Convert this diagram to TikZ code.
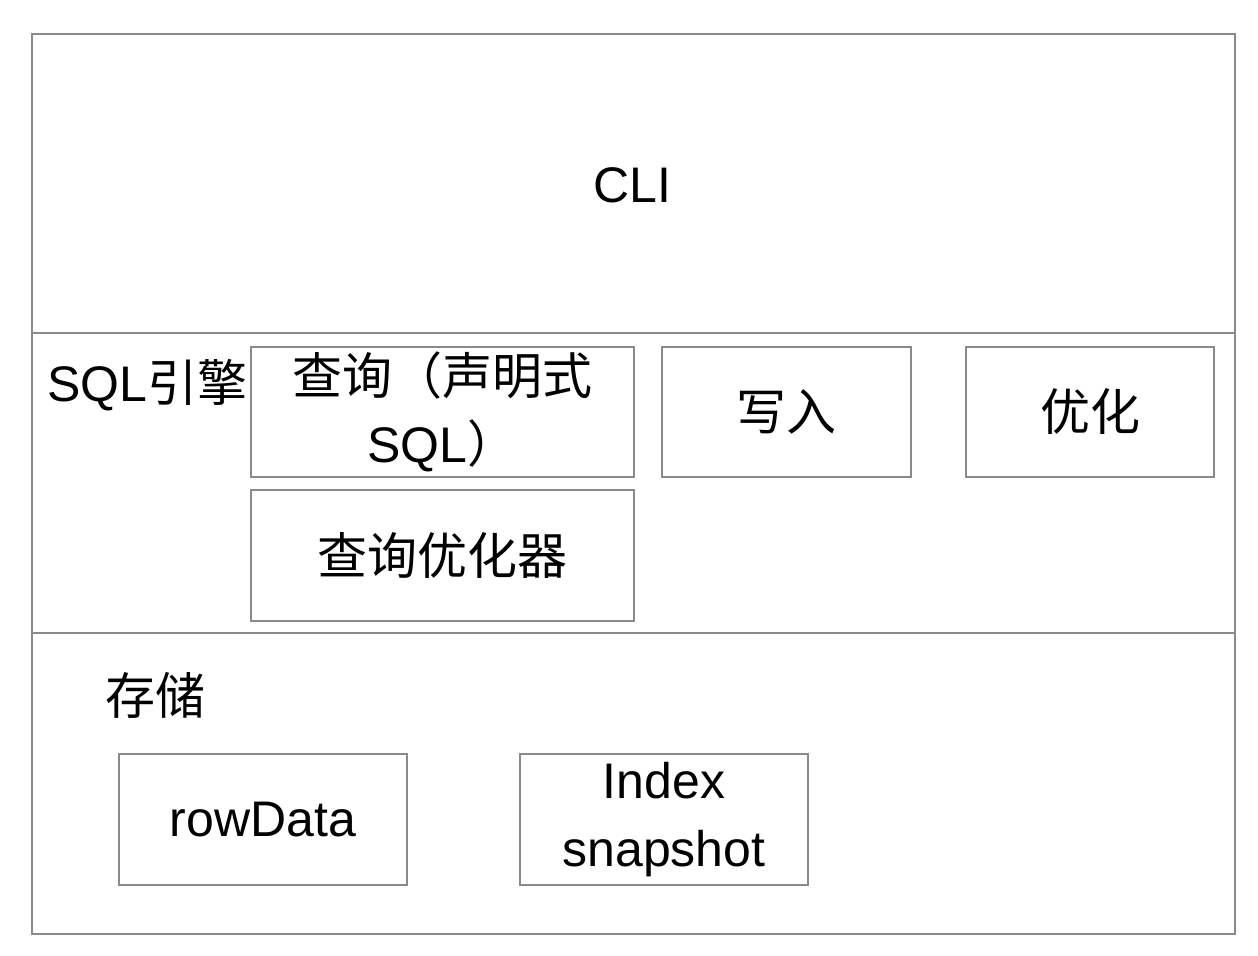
\documentclass[tikz,border=0pt]{standalone}
\usepackage{fontspec}
\setmainfont{Liberation Sans}
\newfontfamily\cjk{Noto Sans CJK SC}
\usepackage{tikz}
\definecolor{framegray}{HTML}{8A8A8A}

\tikzset{
	part/.style={draw=framegray, line width=1pt, align=center, inner sep=0pt},
	label/.style={font=\fontsize{25}{34}\selectfont, align=center, inner sep=0pt}
}

\begin{document}
\begin{tikzpicture}[x=0.5pt, y=-0.5pt, font=\fontsize{25}{34}\selectfont]
		\useasboundingbox (0,0) rectangle (1258,956);
		
		% layers
		\draw [framegray, line width=1pt] (32,34) rectangle (1235,934);
		\draw [framegray, line width=1pt] (32,333) -- (1235,333);
		\draw [framegray, line width=1pt] (32,633) -- (1235,633);
		
		\node [label] (cli) at (632,185) {CLI};
		\node [label, anchor=west] (sql) at (47,385) {SQL{\cjk 引擎}};
		\node [label] (store) at (155,695) {\cjk 存储};
		
		% SQL engine
		\node [part, minimum width=191.5pt, minimum height=65pt] (query) at (442.5,412) {{\cjk 查询（声明式}\\SQL{\cjk ）}};
		\node [part, minimum width=124.5pt, minimum height=65pt] (write) at (786.5,412) {\cjk 写入};
		\node [part, minimum width=124pt, minimum height=65pt] (opt) at (1090,412) {\cjk 优化};
		\node [part, minimum width=191.5pt, minimum height=65.5pt] (qopt) at (442.5,555.5) {\cjk 查询优化器};
		
		% storage
		\node [part, minimum width=144pt, minimum height=65.5pt] (row) at (263,819.5) {rowData};
		\node [part, minimum width=144pt, minimum height=65.5pt] (idx) at (664,819.5) {Index\\snapshot};
\end{tikzpicture}
\end{document}
